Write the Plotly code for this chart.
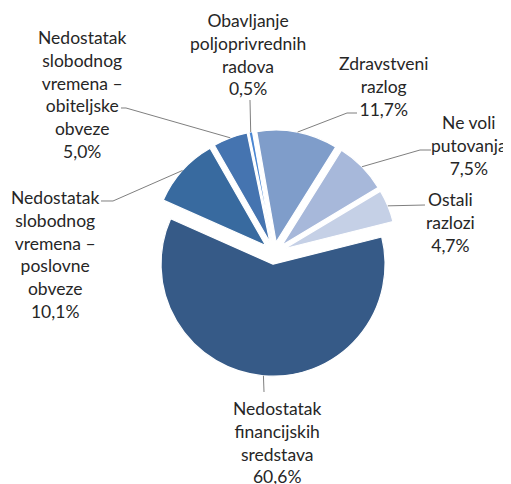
import math
import plotly.graph_objects as go

# ---- data ----
categories = [
    "Zdravstveni razlog",
    "Ne voli putovanja",
    "Ostali razlozi",
    "Nedostatak financijskih sredstava",
    "Nedostatak slobodnog vremena – poslovne obveze",
    "Nedostatak slobodnog vremena – obiteljske obveze",
    "Obavljanje poljoprivrednih radova",
]
label_text = [
    "Zdravstveni<br>razlog",
    "Ne voli<br>putovanja",
    "Ostali<br>razlozi",
    "Nedostatak<br>financijskih<br>sredstava",
    "Nedostatak<br>slobodnog<br>vremena –<br>poslovne<br>obveze",
    "Nedostatak<br>slobodnog<br>vremena –<br>obiteljske<br>obveze",
    "Obavljanje<br>poljoprivrednih<br>radova",
]
values = [11.7, 7.5, 4.7, 60.6, 10.1, 5.0, 0.5]
colors = ["#7F9DCA", "#A7B8DA", "#C5D0E6", "#365A87", "#386A9F", "#4574B0", "#4A86D2"]

# ---- layout constants ----
OFF = 8                      # browser body margin
W, H = 511 - OFF, 484 - OFF  # figure size
PULL = 0.1
ROTATION = -10
CX, CY, R = 274 - OFF, 253 - OFF, 112   # pie centre / radius (figure px)
BOX = 2 * R * (1 + PULL)
DOM_X = [(CX - BOX / 2) / W, (CX + BOX / 2) / W]
DOM_Y = [1 - (CY + BOX / 2) / H, 1 - (CY - BOX / 2) / H]
FONT = dict(family="Lato, 'Open Sans', sans-serif", size=17.5, color="#262626")

# label block centres and text-side leader points (screen px)
label_pos = [(383, 86.5), (469, 145.5), (450, 222.5), (277, 442.5),
             (55, 254.5), (82, 94.5), (248, 55)]
leader_start = [
    [(357, 113), (347, 113)],
    [(431, 150), (420, 150)],
    [(425, 205)],
    [(264, 392)],
    [(101, 201), (113, 201)],
    [(121, 108), (126, 108)],
    [(250, 100)],
]

fig = go.Figure(go.Pie(
    labels=categories, values=values, sort=False,
    direction="clockwise", rotation=ROTATION,
    pull=[PULL] * len(values),
    marker=dict(colors=colors, line=dict(color="white", width=1.2)),
    textinfo="none", hoverinfo="label+percent",
    domain=dict(x=DOM_X, y=DOM_Y), showlegend=False,
))

# pie geometry as plotly computes it (figure px)
boxW = W * (DOM_X[1] - DOM_X[0])
boxH = H * (DOM_Y[1] - DOM_Y[0])
r = min(boxW, boxH) / (2 + 2 * PULL)
cx = W * (DOM_X[0] + DOM_X[1]) / 2
cy = H * (1 - DOM_Y[0]) - boxH / 2
total = sum(values)

def scr_to_paper(p):
    return (p[0] - OFF) / W, 1 - (p[1] - OFF) / H

def fig_to_paper(p):
    return p[0] / W, 1 - p[1] / H

shapes = []
annotations = []
cum = 0.0
for i, v in enumerate(values):
    a0 = ROTATION + cum / total * 360
    a1 = ROTATION + (cum + v) / total * 360
    cum += v
    mid = math.radians((a0 + a1) / 2)
    tip = (cx + r * (1 + PULL) * math.sin(mid), cy - r * (1 + PULL) * math.cos(mid))
    pts = [scr_to_paper(p) for p in leader_start[i]] + [fig_to_paper(tip)]
    path = ""
    for k, (xp, yp) in enumerate(pts):
        path += ("M" if k == 0 else " L") + f" {xp:.5f},{yp:.5f}"
    shapes.append(dict(type="path", xref="paper", yref="paper", path=path,
                       line=dict(color="#7F7F7F", width=1)))
    pct = f"{v:.1f}".replace(".", ",") + "%"
    lx, ly = scr_to_paper(label_pos[i])
    annotations.append(dict(x=lx, y=ly, xref="paper", yref="paper",
                            text=label_text[i] + "<br>" + pct, showarrow=False,
                            xanchor="center", yanchor="middle", align="center",
                            font=FONT))

fig.update_layout(
    width=W, height=H, autosize=False,
    margin=dict(l=0, r=0, t=0, b=0),
    paper_bgcolor="white", plot_bgcolor="white",
    shapes=shapes, annotations=annotations,
)
fig.write_html("out.html")
